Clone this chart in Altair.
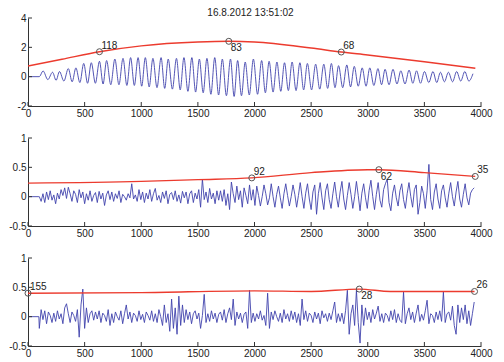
import altair as alt
import pandas as pd

TITLE = "16.8.2012 13:51:02"
xticks = [0, 500, 1000, 1500, 2000, 2500, 3000, 3500, 4000]
yticks1 = [-2, 0, 2, 4]
yticks23 = [-0.5, 0, 0.5, 1]

# ---------- panel 1 : respiratory-like oscillation (peaks / troughs) ----------
lead1_x = [0, 100]
lead1_y = [0, 0]
peak1_x = [133, 217, 278, 356, 423, 492, 559, 631, 694, 767, 839, 906, 972, 1036,
           1103, 1175, 1238, 1311, 1377, 1447, 1513, 1580, 1649, 1716, 1788, 1851,
           1918, 1990, 2063, 2129, 2198, 2265, 2332, 2401, 2467, 2540, 2612, 2679,
           2742, 2815, 2881, 2951, 3018, 3090, 3153, 3223, 3292, 3365, 3431, 3501,
           3576, 3642, 3712, 3785, 3857, 3929]
peak1_y = [0.39, 0.30, 0.35, 0.55, 0.60, 0.90, 0.95, 1.05, 1.10, 1.20, 1.25, 1.30,
           1.30, 1.30, 1.25, 1.30, 1.20, 1.25, 1.30, 1.30, 1.20, 1.25, 1.30, 1.20,
           1.20, 1.10, 1.00, 1.20, 1.10, 1.05, 1.00, 0.95, 1.00, 0.95, 0.90, 0.85,
           0.85, 0.90, 0.75, 0.80, 0.70, 0.60, 0.60, 0.55, 0.50, 0.50, 0.40, 0.45,
           0.40, 0.35, 0.35, 0.30, 0.30, 0.35, 0.35, 0.20]
trough1_x = [175, 248, 317, 390, 458, 526, 595, 663, 731, 803, 873, 939, 1004, 1070,
             1139, 1207, 1275, 1344, 1412, 1480, 1547, 1615, 1683, 1752, 1820, 1885,
             1954, 2027, 2096, 2164, 2232, 2299, 2367, 2434, 2504, 2576, 2646, 2711,
             2779, 2848, 2916, 2985, 3054, 3122, 3188, 3258, 3329, 3398, 3466, 3539,
             3609, 3677, 3749, 3821, 3893]
trough1_y = [-0.20, -0.25, -0.30, -0.35, -0.40, -0.45, -0.45, -0.50, -0.55, -0.55,
             -0.60, -0.60, -0.65, -0.70, -0.75, -0.80, -0.85, -0.90, -1.00, -1.05,
             -1.10, -1.20, -1.25, -1.30, -1.35, -1.30, -1.25, -1.20, -1.10, -1.05,
             -1.00, -0.95, -0.95, -0.90, -0.90, -0.85, -0.80, -0.75, -0.75, -0.70,
             -0.65, -0.65, -0.60, -0.55, -0.55, -0.50, -0.50, -0.45, -0.45, -0.40,
             -0.40, -0.35, -0.35, -0.30, -0.30]
env1_x = [0, 300, 631, 1000, 1500, 1773, 2000, 2500, 2766, 3000, 3500, 3950]
env1_y = [0.73, 1.19, 1.70, 2.10, 2.36, 2.41, 2.36, 1.95, 1.68, 1.48, 1.02, 0.57]
mk1_x = [631, 1773, 2766]
mk1_y = [1.70, 2.41, 1.68]
mk1_lab = ["118", "83", "68"]
mk1_pos = ["up", "down", "up"]

# ---------- panels 2 and 3 : sampled every 16 samples from 100 to 3940 ----------
samp_x = list(range(100, 3941, 16))
lead23_x = [0, 96]
lead23_y = [0, 0]
sig2_y = [
    0.00, -0.08, 0.05, -0.10, 0.08, -0.05, 0.10, -0.06, 0.03, -0.12, 0.06, -0.04, 0.12, 0.02, 0.15, -0.03, 0.16, 0.05, -0.08, 0.10,
    0.04, -0.10, 0.12, -0.02, 0.08, -0.12, 0.05, -0.06, 0.10, -0.08, 0.02, 0.07, -0.10, 0.09, -0.04, 0.06, -0.15, 0.03, 0.10, -0.05,
    0.08, -0.08, 0.05, -0.03, 0.10, -0.10, 0.04, 0.00, -0.06, 0.05, -0.02, 0.22, -0.04, 0.03, -0.08, 0.12, -0.05, 0.08, -0.10, 0.06,
    -0.04, 0.12, -0.08, 0.05, 0.14, -0.06, 0.02, -0.10, 0.08, -0.03, 0.10, -0.12, 0.04, 0.07, -0.05, 0.10, -0.08, 0.03, -0.11, 0.09,
    -0.02, 0.08, -0.12, 0.05, 0.10, -0.10, 0.06, -0.04, 0.12, -0.18, 0.30, -0.05, 0.08, -0.10, 0.14, -0.04, 0.06, -0.12, 0.10, -0.06,
    0.10, -0.08, 0.12, -0.15, 0.05, -0.22, 0.25, 0.05, -0.10, 0.18, -0.05, 0.10, -0.18, 0.15, 0.02, -0.12, 0.20, -0.06, 0.12, -0.15,
    0.18, 0.02, -0.16, 0.00, 0.20, 0.05, -0.14, -0.02, 0.22, 0.00, -0.18, 0.04, 0.18, -0.02, -0.20, 0.05, 0.22, 0.02, -0.16, 0.00,
    0.20, 0.04, -0.18, 0.02, 0.24, 0.00, -0.20, 0.06, 0.22, -0.04, -0.22, 0.08, 0.20, -0.30, 0.05, 0.24, -0.02, -0.22, 0.10, 0.22,
    -0.05, -0.20, 0.05, 0.25, 0.00, -0.18, 0.08, 0.26, -0.04, -0.22, 0.02, 0.24, 0.04, -0.20, 0.00, 0.26, 0.02, -0.24, 0.06, 0.22,
    -0.02, -0.20, 0.10, 0.28, 0.00, -0.22, 0.04, 0.24, -0.06, -0.18, 0.12, 0.22, 0.30, -0.10, -0.24, 0.06, 0.20, -0.02, -0.16, 0.10,
    0.22, -0.05, -0.20, 0.05, 0.24, 0.00, -0.18, 0.12, 0.20, -0.30, -0.10, 0.18, 0.05, -0.20, 0.10, 0.55, -0.05, -0.22, 0.08, 0.22,
    -0.04, -0.20, 0.10, 0.20, -0.02, -0.18, 0.06, 0.24, 0.00, -0.16, 0.08, 0.26, -0.04, -0.18, 0.04, 0.22, -0.02, -0.14, 0.06, 0.12,
    0.15]
env2_x = [0, 1000, 1500, 1976, 2500, 3000, 3098, 3500, 3949]
env2_y = [0.23, 0.26, 0.29, 0.32, 0.41, 0.46, 0.46, 0.41, 0.345]
mk2_x = [1976, 3098, 3949]
mk2_y = [0.32, 0.46, 0.345]
mk2_lab = ["92", "62", "35"]
mk2_pos = ["up", "down", "up"]

sig3_y = [
    -0.20, 0.12, -0.05, 0.10, -0.12, 0.08, 0.02, -0.10, 0.06, -0.08, 0.10, -0.04, 0.05, -0.12, 0.15, 0.22, 0.05, -0.10, 0.08, 0.02,
    -0.08, 0.12, -0.35, 0.20, 0.47, -0.20, 0.15, -0.10, 0.05, 0.10, -0.06, 0.08, -0.04, 0.10, -0.10, 0.06, 0.02, -0.08, 0.12, -0.15,
    0.05, -0.10, 0.08, 0.00, -0.06, 0.10, -0.12, 0.05, 0.20, -0.04, 0.08, -0.10, 0.06, 0.02, -0.08, 0.10, -0.05, 0.04, -0.10, 0.08,
    0.02, -0.06, 0.10, -0.08, 0.05, -0.10, 0.12, 0.00, -0.15, 0.20, -0.10, 0.05, -0.25, 0.30, -0.20, 0.15, -0.30, 0.35, -0.15, 0.20,
    -0.10, 0.12, -0.05, 0.08, -0.12, 0.05, 0.10, -0.04, 0.06, -0.20, 0.02, 0.38, -0.10, 0.05, -0.08, 0.10, -0.04, 0.06, -0.10, 0.04,
    0.08, -0.06, 0.12, -0.10, 0.05, 0.15, -0.05, 0.30, -0.15, 0.08, -0.04, 0.06, -0.10, 0.04, 0.08, -0.20, 0.45, -0.10, 0.06, -0.08,
    0.05, -0.04, 0.10, -0.06, 0.02, -0.15, 0.40, -0.20, 0.08, -0.05, 0.10, 0.00, -0.08, 0.06, -0.10, 0.12, -0.04, 0.05, -0.08, 0.10,
    -0.05, 0.08, -0.10, 0.05, -0.15, 0.30, -0.05, 0.10, -0.08, 0.06, 0.02, -0.10, 0.08, -0.04, 0.06, -0.12, 0.10, -0.02, 0.05, -0.08,
    0.06, -0.05, 0.10, 0.25, -0.10, 0.05, -0.08, 0.06, -0.12, 0.10, 0.45, -0.30, 0.05, 0.20, -0.15, 0.45, -0.10, -0.45, 0.20, -0.15,
    0.15, -0.05, 0.08, -0.10, 0.12, -0.04, 0.06, 0.18, -0.08, 0.05, -0.10, 0.06, 0.02, -0.08, 0.10, -0.05, 0.12, -0.10, 0.05, -0.06,
    -0.10, 0.42, -0.12, 0.05, 0.15, -0.05, 0.08, -0.10, 0.06, 0.20, -0.08, 0.04, -0.06, 0.10, 0.28, -0.12, 0.05, 0.02, -0.10, 0.08,
    -0.05, 0.10, -0.08, 0.42, -0.10, 0.05, 0.08, -0.06, 0.18, -0.15, -0.30, 0.20, -0.10, 0.15, -0.05, 0.20, -0.12, 0.10, -0.15, 0.05,
    0.25]
env3_x = [0, 1000, 2000, 2500, 2925, 3200, 3943]
env3_y = [0.40, 0.41, 0.44, 0.43, 0.47, 0.43, 0.43]
mk3_x = [0, 2925, 3943]
mk3_y = [0.40, 0.47, 0.43]
mk3_lab = ["155", "28", "26"]
mk3_pos = ["up", "down", "up"]

W, H = 453, 88
FONT = "Liberation Sans"
BLUE = "#4143ad"
RED = "#ec3b2e"


def panel(sig_x, sig_y, env_x, env_y, mk_x, mk_y, mk_lab, mk_pos, ydom, yticks, interp):
    sig = pd.DataFrame({"x": sig_x, "y": sig_y})
    env = pd.DataFrame({"x": env_x, "y": env_y})
    mk = pd.DataFrame({"x": mk_x, "y": mk_y, "lab": mk_lab, "pos": mk_pos})
    xt = pd.DataFrame({"x": xticks})
    yt = pd.DataFrame({"y": yticks})

    X = alt.X("x:Q", scale=alt.Scale(domain=[0, 4000], nice=False),
              axis=alt.Axis(values=xticks, title=None, labelFlush=False,
                            labelExpr="'' + datum.value"))
    Y = alt.Y("y:Q", scale=alt.Scale(domain=ydom, nice=False, zero=False),
              axis=alt.Axis(values=yticks, title=None, labelFlush=False,
                            labelExpr="'' + datum.value"))

    blue = alt.Chart(sig).mark_line(color=BLUE, strokeWidth=0.9, clip=True,
                                    interpolate=interp).encode(x=X, y=Y)
    red = alt.Chart(env).mark_line(color=RED, strokeWidth=1.4, clip=True,
                                   interpolate="monotone").encode(x=X, y=Y)
    pts = alt.Chart(mk).mark_point(shape="circle", filled=False, color="#555555",
                                   size=36, strokeWidth=1, opacity=1).encode(x=X, y=Y)
    up = alt.Chart(mk).transform_filter("datum.pos == 'up'").mark_text(
        align="left", baseline="middle", dx=2, dy=-6, fontSize=10, font=FONT, color="#222222"
    ).encode(x=X, y=Y, text="lab:N")
    down = alt.Chart(mk).transform_filter("datum.pos == 'down'").mark_text(
        align="left", baseline="middle", dx=2, dy=7, fontSize=10, font=FONT, color="#222222"
    ).encode(x=X, y=Y, text="lab:N")
    xtick = alt.Chart(xt).mark_rule(color="#333333", strokeWidth=1).encode(
        x=X, y=alt.value(H), y2=alt.value(H - 4))
    ytick = alt.Chart(yt).mark_rule(color="#333333", strokeWidth=1).encode(
        y=Y, x=alt.value(0), x2=alt.value(4))
    return alt.layer(blue, red, xtick, ytick, pts, up, down).properties(width=W, height=H)


p1 = panel(lead1_x + peak1_x + trough1_x, lead1_y + peak1_y + trough1_y,
           env1_x, env1_y, mk1_x, mk1_y, mk1_lab, mk1_pos, [-2, 4], yticks1, "monotone")
p2 = panel(lead23_x + samp_x, lead23_y + sig2_y,
           env2_x, env2_y, mk2_x, mk2_y, mk2_lab, mk2_pos, [-0.5, 1], yticks23, "linear")
p3 = panel(lead23_x + samp_x, lead23_y + sig3_y,
           env3_x, env3_y, mk3_x, mk3_y, mk3_lab, mk3_pos, [-0.5, 1], yticks23, "linear")

chart = alt.vconcat(p1, p2, p3, spacing=15).properties(
    title=alt.TitleParams(TITLE, fontSize=10, fontWeight="normal", font=FONT,
                          color="#222222", offset=-5, anchor="middle"),
    padding=0,
    background="white",
).configure_view(stroke=None).configure_axis(
    grid=False, ticks=False, domainColor="#333333", domainWidth=1,
    labelFont=FONT, labelFontSize=10, labelColor="#222222",
).configure_axisX(labelPadding=2).configure_axisY(labelPadding=2)

chart.save("out.html", embed_options={"renderer": "svg", "actions": False})
